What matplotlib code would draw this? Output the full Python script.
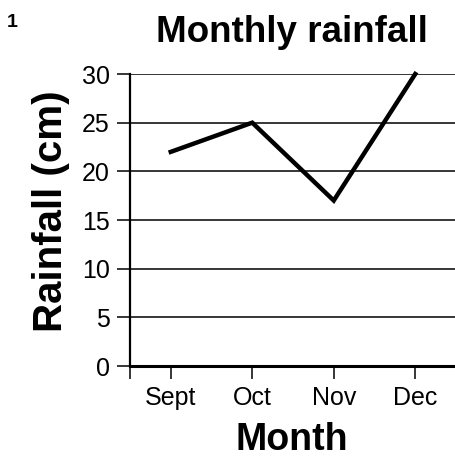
import matplotlib.pyplot as plt

plt.rcParams['font.family'] = ['Liberation Sans', 'DejaVu Sans']

months = ['Sept', 'Oct', 'Nov', 'Dec']
rainfall = [22, 25, 17, 30]
y_ticks = [0, 5, 10, 15, 20, 25, 30]

fig = plt.figure(figsize=(4.56, 4.57), dpi=100)
ax = fig.add_axes([130/456, 1 - 366/457, 1 - 130/456, (366 - 74)/457])

x = list(range(len(months)))
ax.plot(x, rainfall, color='black', lw=3.2, solid_joinstyle='miter', clip_on=False, zorder=3)

ax.set_xlim(-0.5, len(months) - 0.5)
ax.set_ylim(0, 30)
ax.set_yticks(y_ticks)
ax.set_xticks([-0.5] + x)
ax.set_xticklabels([''] + months)

ax.yaxis.grid(True, color='black', lw=1.1)
ax.set_axisbelow(True)
for s in ['top', 'right']:
    ax.spines[s].set_visible(False)
ax.spines['left'].set_linewidth(1.6)
ax.spines['bottom'].set_linewidth(2.2)
ax.tick_params(axis='both', length=9.5, width=1.1, labelsize=18, pad=5, color='black')

fig.text(292/456, 1 - 450/457, 'Month', fontsize=27, fontweight='bold',
         ha='center', va='baseline')
fig.text(51/456, 1 - 211/457, 'Rainfall (cm)', fontsize=29, fontweight='bold',
         ha='center', va='center', rotation=90)
fig.text(292/456, 1 - 42/457, 'Monthly rainfall', fontsize=26.5, fontweight='bold',
         ha='center', va='baseline')
fig.text(7/456, 1 - 27/457, '1', fontsize=14, fontweight='bold', ha='left', va='baseline')

fig.savefig('out.png', dpi=100)
